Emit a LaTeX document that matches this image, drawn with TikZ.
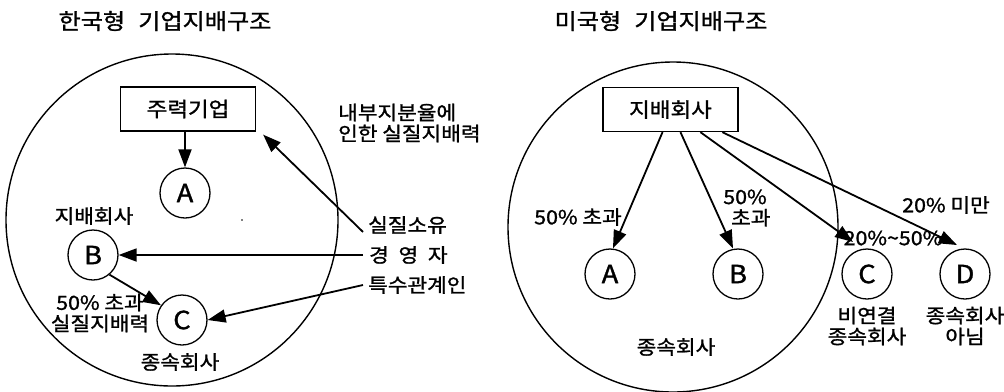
\documentclass[tikz,border=0pt]{standalone}
\usepackage{fontspec}
\setmainfont{Noto Sans CJK KR}[FakeStretch=1.1,FakeBold=1.3]
\usetikzlibrary{arrows.meta}
\tikzset{
  big/.style={draw, line width=1.4bp},
  co/.style={draw, circle, line width=1.3bp, minimum size=50bp, inner sep=0pt, font=\fontsize{25}{25}\selectfont},
  boxn/.style={draw, line width=1.3bp, minimum width=135bp, minimum height=44bp, inner sep=0pt, font=\fontsize{20.5}{20.5}\selectfont},
  lbl/.style={inner sep=0pt, font=\fontsize{19.5}{21}\selectfont},
  ttl/.style={inner sep=0pt, font=\fontsize{22}{22}\selectfont},
  arr/.style={line width=1.8bp, -{Triangle[length=18bp,width=13bp]}},
}
\begin{document}
\begin{tikzpicture}[x=1bp,y=-1bp]
\useasboundingbox (0,0) rectangle (1004,391);
% ---------- left: Korean type ----------
\node[ttl] (t1) at (165,21) {한국형\hspace{0.6em}기업지배구조};
\draw[big] (172,220) circle (166);
\node[boxn] (kbox) at (188,109) {주력기업};
\node[co] (kA) at (185,193) {A};
\node[co] (kB) at (93,255) {B};
\node[co] (kC) at (182,320) {C};
\node[lbl] (kBl) at (94,216) {지배회사};
\node[lbl] (kCl) at (180,362) {종속회사};
\node[lbl, align=center] (kBC) at (100,313) {50\% 초과\\실질지배력};
\node[lbl, align=left, anchor=west] (kin) at (338,123) {내부지분율에\\인한 실질지배력};
\node[lbl, anchor=west] (own) at (368,225) {실질소유};
\node[lbl, anchor=west] (mgr) at (369,255) {경\hspace{0.5em}영\hspace{0.5em}자};
\node[lbl, anchor=west] (rel) at (368,285) {특수관계인};
\fill (242,220) circle (0.9);
\draw[arr] (kbox.south -| kA) -- (kA.north);
\draw[arr] ([xshift=-5,yshift=-7]own.west) -- ([xshift=7,yshift=-3]kbox.south east);
\draw[arr] ([xshift=-6]mgr.west) -- (kB.east);
\draw[arr] ([xshift=-5]rel.west) -- (kC.east);
\draw[arr] (kB.-50) -- (kC.145);
% ---------- right: US type ----------
\node[ttl] (t2) at (661,21) {미국형\hspace{0.6em}기업지배구조};
\draw[big] (673,227) circle (165);
\node[boxn] (ubox) at (670.5,109.5) {지배회사};
\node[co] (uA) at (610,274) {A};
\node[co] (uB) at (738,274) {B};
\node[co] (uC) at (867,274) {C};
\node[co] (uD) at (965,274) {D};
\node[lbl] (uAl) at (578,217) {50\% 초과};
\node[lbl, align=center] (uBl) at (745,208) {50\%\\\hspace{0.6em}초과};
\node[lbl] (uCl) at (893,238) {20\%\textasciitilde 50\%};
\node[lbl] (uDl) at (946,205) {20\% 미만};
\node[lbl, align=center] (uCs) at (867,326) {비연결\\종속회사};
\node[lbl, align=center] (uDs) at (965,326) {종속회사\\아님};
\node[lbl] (usub) at (676,347) {종속회사};
\draw[arr] ([xshift=-8]ubox.south) -- ([xshift=3]uA.north);
\draw[arr] ([xshift=10]ubox.south) -- ([xshift=-5]uB.north);
\draw[arr] ([xshift=30]ubox.south) -- ([shift={(-14,-32)}]uC.center);
\draw[arr] ([xshift=52]ubox.south) -- ([shift={(-8,-29)}]uD.center);
\end{tikzpicture}
\end{document}
